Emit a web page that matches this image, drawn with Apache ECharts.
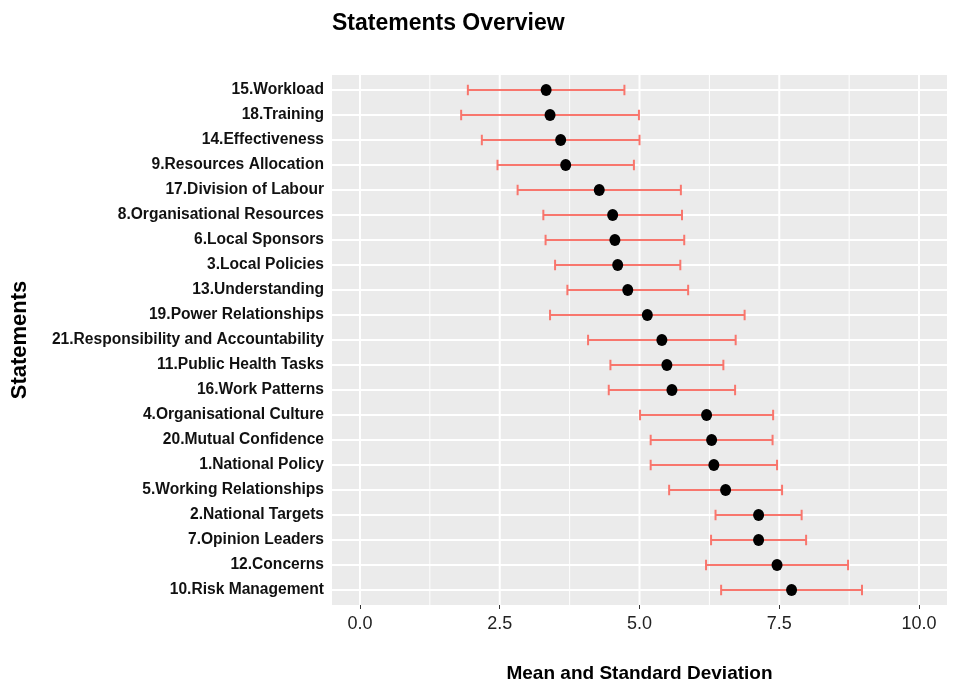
<!DOCTYPE html>
<html>
<head>
<meta charset="utf-8">
<script src="https://cdn.jsdelivr.net/npm/echarts@6/dist/echarts.min.js"></script>
<style>
html, body { margin: 0; padding: 0; background: #fff; }
#main { width: 957px; height: 689px; }
</style>
</head>
<body>
<div id="main"></div>
<script>
// statements, top to bottom
var statements = [
    '15.Workload', '18.Training', '14.Effectiveness', '9.Resources Allocation',
    '17.Division of Labour', '8.Organisational Resources', '6.Local Sponsors',
    '3.Local Policies', '13.Understanding', '19.Power Relationships',
    '21.Responsibility and Accountability', '11.Public Health Tasks',
    '16.Work Patterns', '4.Organisational Culture', '20.Mutual Confidence',
    '1.National Policy', '5.Working Relationships', '2.National Targets',
    '7.Opinion Leaders', '12.Concerns', '10.Risk Management'
];
var means = [3.33, 3.40, 3.59, 3.68, 4.28, 4.52, 4.56, 4.61, 4.79, 5.14, 5.40,
             5.49, 5.58, 6.20, 6.29, 6.33, 6.54, 7.13, 7.13, 7.46, 7.72];
var sds = [1.40, 1.59, 1.41, 1.22, 1.46, 1.24, 1.24, 1.12, 1.08, 1.74, 1.32,
           1.01, 1.13, 1.19, 1.09, 1.13, 1.01, 0.77, 0.85, 1.27, 1.26];
var xTicks = [0, 2.5, 5, 7.5, 10];
var xMinor = [1.25, 3.75, 6.25, 8.75];

var rows = statements.map(function (s, i) { return i + 1; });

var FONT = '"Liberation Sans", Arial, sans-serif';

var points = [], bars = [];
for (var i = 0; i < statements.length; i++) {
    points.push([means[i], rows[i]]);
    bars.push([rows[i], means[i] - sds[i], means[i] + sds[i]]);
}

var grid = [];
xTicks.forEach(function (v) { grid.push(['x', v, 2]); });
xMinor.forEach(function (v) { grid.push(['x', v, 1]); });
rows.forEach(function (v) { grid.push(['y', v, 2]); });

var myChart = echarts.init(document.getElementById('main'));

var option = {
    animation: false,
    title: {
        text: 'Statements Overview',
        left: 327,
        top: 7,
        textStyle: { fontFamily: FONT, fontSize: 23, fontWeight: 'bold', color: '#000' }
    },
    grid: {
        left: 332, right: 10, top: 75, bottom: 84,
        outerBoundsMode: 'none',
        show: true, backgroundColor: '#EBEBEB', borderWidth: 0
    },
    xAxis: {
        type: 'value',
        min: -0.5, max: 10.5,
        name: 'Mean and Standard Deviation',
        nameLocation: 'middle',
        nameGap: 59,
        nameTextStyle: { fontFamily: FONT, fontSize: 19, fontWeight: 'bold', color: '#000' },
        axisLine: { show: false },
        axisTick: { show: true, customValues: xTicks, length: 4, lineStyle: { color: '#333' } },
        axisLabel: {
            customValues: xTicks, margin: 10,
            fontFamily: FONT, fontSize: 18, color: '#222',
            formatter: function (v) { return v.toFixed(1); }
        },
        splitLine: { show: false }
    },
    yAxis: {
        type: 'value',
        inverse: true,
        min: 0.4, max: 21.6,
        name: 'Statements',
        nameLocation: 'middle',
        nameGap: 301,
        nameTextStyle: { fontFamily: FONT, fontSize: 22, fontWeight: 'bold', color: '#000' },
        axisLine: { show: false },
        axisTick: { show: true, customValues: rows, length: 4, lineStyle: { color: '#333' } },
        axisLabel: {
            customValues: rows, margin: 8,
            fontFamily: FONT, fontSize: 15.6, fontWeight: 'bold', color: '#111',
            formatter: function (v) { return statements[Math.round(v) - 1] || ''; }
        },
        splitLine: { show: false }
    },
    series: [
        {
            // panel grid lines
            type: 'custom',
            silent: true,
            z: 1,
            data: grid,
            renderItem: function (params, api) {
                var d = grid[params.dataIndex];
                var a, b;
                if (d[0] === 'x') {
                    a = api.coord([d[1], 0.4]);
                    b = api.coord([d[1], 21.6]);
                } else {
                    a = api.coord([-0.5, d[1]]);
                    b = api.coord([10.5, d[1]]);
                }
                return {
                    type: 'line',
                    shape: { x1: a[0], y1: a[1], x2: b[0], y2: b[1] },
                    style: { stroke: '#FFFFFF', lineWidth: d[2] === 2 ? 2 : 1 }
                };
            }
        },
        {
            name: 'sd',
            type: 'custom',
            z: 2,
            encode: { x: [1, 2], y: 0 },
            data: bars,
            renderItem: function (params, api) {
                var y = api.value(0);
                var lo = api.coord([api.value(1), y]);
                var hi = api.coord([api.value(2), y]);
                var h = api.size([0, 0.42])[1] / 2;
                var st = { stroke: '#F8766D', lineWidth: 2 };
                return {
                    type: 'group',
                    children: [
                        { type: 'line', shape: { x1: lo[0], y1: lo[1], x2: hi[0], y2: hi[1] }, style: st },
                        { type: 'line', shape: { x1: lo[0], y1: lo[1] - h, x2: lo[0], y2: lo[1] + h }, style: st },
                        { type: 'line', shape: { x1: hi[0], y1: hi[1] - h, x2: hi[0], y2: hi[1] + h }, style: st }
                    ]
                };
            }
        },
        {
            name: 'mean',
            type: 'scatter',
            z: 3,
            symbol: 'circle',
            symbolSize: [11, 12],
            itemStyle: { color: '#000', opacity: 1 },
            data: points
        }
    ]
};
myChart.setOption(option);
</script>
</body>
</html>
